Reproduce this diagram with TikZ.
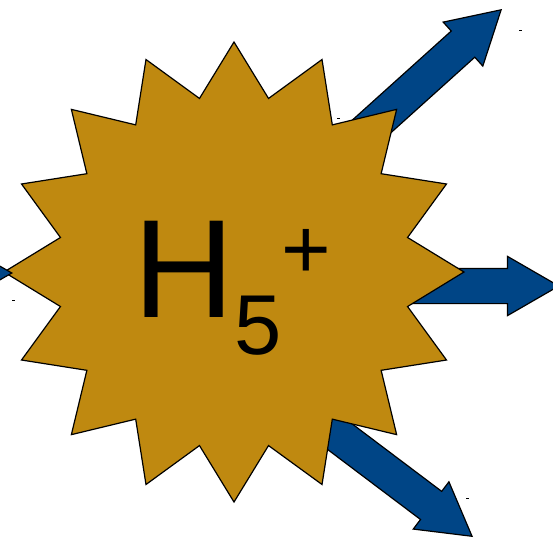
\documentclass[tikz,border=0pt]{standalone}
\usepackage{fontspec}
\setmainfont{Liberation Sans}
\usetikzlibrary{shapes.geometric, shapes.arrows, positioning, backgrounds, calc}
\definecolor{burstgold}{RGB}{191, 137, 16}
\definecolor{ionblue}{RGB}{0, 69, 134}

\begin{document}
\begin{tikzpicture}[
    x=1pt, y=-1pt,
    burst/.style={
        star,
        star points=16,
        star point ratio=1.3,
        minimum size=460pt,
        inner sep=0pt,
        draw=black,
        line width=1.2pt,
        fill=burstgold
    },
    blockarrow/.style={
        single arrow,
        draw=black,
        line width=1.2pt,
        fill=ionblue,
        inner xsep=0pt,
        inner ysep=17pt,
        single arrow head extend=12pt,
        single arrow tip angle=60,
        anchor=tip
    },
    tick/.style={
        rectangle,
        fill=black,
        inner sep=0pt,
        minimum width=3pt,
        minimum height=1pt
    }
]
    \useasboundingbox (0,0) rectangle (553,539);

    % Stern
    \node [burst] (burst) at (234,272) {};

    % Formel
    \node [anchor=base west, inner sep=0pt] (ion) at ($(burst.center)+(-101,45)$)
        {\fontsize{140}{140}\selectfont H\fontsize{85}{85}\selectfont
         \raisebox{-37pt}{5}\raisebox{39pt}{+}};

    % Pfeile hinter dem Stern
    \begin{pgfonlayer}{background}
        \node [blockarrow, minimum height=230pt, rotate=42] (upper) at (502,9) {};
        \node [blockarrow, minimum height=170pt] (right) at (560,286) {};
        \node [blockarrow, minimum height=220pt, rotate=-37] (lower) at (473,537) {};
    \end{pgfonlayer}

    % Pfeil von links
    \node [blockarrow, minimum height=70pt] (left) at (13,273) {};

    % kleine Marken
    \node [tick] (m1) at (338,118) {};
    \node [tick] (m2) at (520,30) {};
    \node [tick] (m3) at (13,300) {};
    \node [tick] (m4) at (467,498) {};

\end{tikzpicture}
\end{document}
